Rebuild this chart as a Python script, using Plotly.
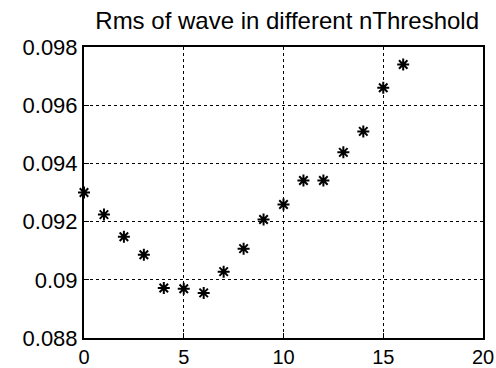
import plotly.graph_objects as go

n_threshold = [0, 1, 2, 3, 4, 5, 6, 7, 8, 9, 10, 11, 12, 13, 14, 15, 16]
rms_values = [0.0930, 0.09224, 0.09148, 0.09086, 0.08972, 0.08969, 0.08955, 0.09028,
              0.09107, 0.09207, 0.09259, 0.09341, 0.09341, 0.09438, 0.0951, 0.0966, 0.0974]
x_ticks = [0, 5, 10, 15, 20]
x_tick_labels = ["0", "5", "10", "15", "20"]
y_ticks = [0.088, 0.090, 0.092, 0.094, 0.096, 0.098]
y_tick_labels = ["0.088", "0.09", "0.092", "0.094", "0.096", "0.098"]

fig = go.Figure()
fig.add_trace(go.Scatter(
    x=n_threshold, y=rms_values, mode="markers",
    marker=dict(symbol="asterisk-open", size=10, color="black",
                line=dict(color="black", width=2)),
    cliponaxis=False,
))

font = "Liberation Sans, Arial, sans-serif"
fig.update_layout(
    width=496, height=368,
    margin=dict(l=84, r=13, t=47, b=30, autoexpand=False),
    paper_bgcolor="white", plot_bgcolor="white",
    showlegend=False,
    title=dict(text="Rms of wave in different nThreshold", x=0.579, xanchor="center",
               y=0.945, yanchor="middle",
               font=dict(family=font, size=24, color="black")),
    xaxis=dict(range=[0, 20], tickvals=x_ticks, ticktext=x_tick_labels, automargin=False,
               ticklabeloverflow="allow", ticklabelstandoff=0,
               showgrid=True, gridcolor="black", griddash="dot", gridwidth=1,
               showline=True, linecolor="black", linewidth=2, mirror=True,
               ticks="inside", ticklen=5, tickcolor="black", zeroline=False,
               tickfont=dict(family=font, size=20, color="black")),
    yaxis=dict(range=[0.088, 0.098], tickvals=y_ticks, ticktext=y_tick_labels, automargin=False,
               showgrid=True, gridcolor="black", griddash="dot", gridwidth=1,
               showline=True, linecolor="black", linewidth=2, mirror=True,
               ticks="inside", ticklen=5, tickcolor="black", zeroline=False,
               tickfont=dict(family=font, size=22, color="black")),
)

fig.write_html("out.html")
